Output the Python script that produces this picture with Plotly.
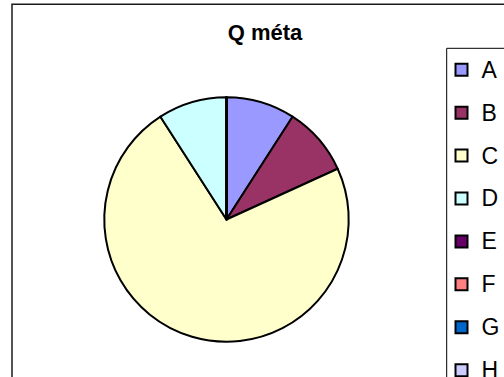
import plotly.graph_objects as go

categories = ["A", "B", "C", "D", "E", "F", "G", "H"]
values = [1, 1, 8, 1, 0, 0, 0, 0]
colors = ["#9999FF", "#993366", "#FFFFCC", "#CCFFFF", "#660066", "#FF8080", "#0066CC", "#CCCCFF"]
title_text = "Q méta"

W, H = 504, 377
FONT = "Liberation Sans, Arial, sans-serif"

legend_labels = [
    f"<span style='font-size:23px;baseline-shift:4px'>{c}</span>" for c in categories
]

fig = go.Figure(
    go.Pie(
        labels=legend_labels,
        values=values,
        marker=dict(colors=colors, line=dict(color="#000000", width=2)),
        sort=False,
        direction="clockwise",
        rotation=0,
        textinfo="none",
        hoverinfo="label+value+percent",
        domain=dict(x=[104 / W, 349 / W], y=[1 - 341.7 / H, 1 - 97.3 / H]),
    )
)

fig.update_layout(
    width=W,
    height=H,
    margin=dict(l=0, r=0, t=0, b=0, pad=0, autoexpand=False),
    paper_bgcolor="white",
    plot_bgcolor="white",
    font=dict(family=FONT, color="#000000"),
    title=dict(
        text=title_text,
        font=dict(family=FONT, size=22, color="#000000", weight="bold"),
        x=265 / W,
        xanchor="center",
        xref="paper",
        y=1 - 32 / H,
        yanchor="middle",
        yref="container",
    ),
    showlegend=True,
    legend=dict(
        x=447.5 / W,
        y=1 - 43.3 / H,
        xanchor="left",
        yanchor="top",
        borderwidth=0,
        bgcolor="rgba(0,0,0,0)",
        font=dict(family=FONT, size=30.7, color="#000000"),
        indentation=-6,
        maxheight=1,
    ),
    shapes=[
        # chart area border
        dict(
            type="rect",
            xref="paper",
            yref="paper",
            x0=12 / W,
            x1=1.1,
            y0=-0.1,
            y1=1 - 4.3 / H,
            line=dict(color="#1a1a1a", width=1.5),
            fillcolor="rgba(0,0,0,0)",
            layer="above",
        ),
        # legend box border
        dict(
            type="rect",
            xref="paper",
            yref="paper",
            x0=446.7 / W,
            x1=1.1,
            y0=-0.1,
            y1=1 - 48.3 / H,
            line=dict(color="#000000", width=1),
            fillcolor="rgba(0,0,0,0)",
            layer="below",
        ),
    ],
)

fig.write_html("out.html")
